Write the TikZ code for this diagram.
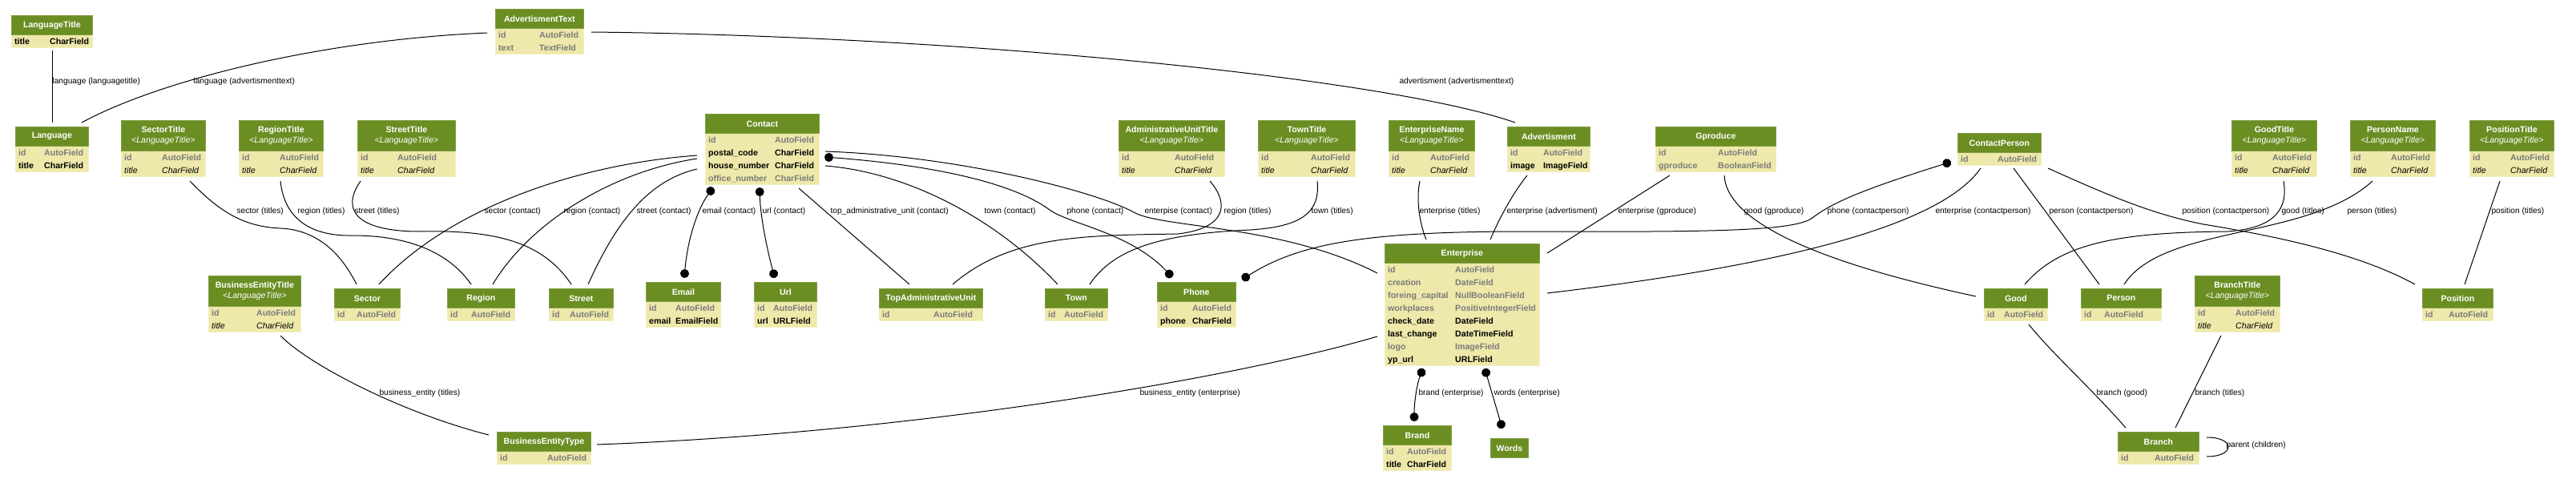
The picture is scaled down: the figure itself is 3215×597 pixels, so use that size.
\documentclass[tikz,border=0pt]{standalone}
\usepackage{fontspec}
\setmainfont{Liberation Sans}
\usepackage{tikz}
\usetikzlibrary{arrows.meta,positioning}

\definecolor{hdr}{HTML}{6B8E23}
\definecolor{body}{HTML}{EEE8AA}
\definecolor{fgray}{HTML}{7B7B7B}
\newcommand\dfont{\fontsize{10.6}{13}\selectfont}
\newcommand\lfont{\fontsize{10.2}{12}\selectfont}

% #1 name, #2 x, #3 y, #4 width, #5 type column, #6 rows, #7 title, #8 parent, #9 fields
\newcommand\model[9]{%
  \ifx\relax#8\relax\def\hh{24}\else\def\hh{38}\fi
  \pgfmathsetmacro\bh{\hh+16*#6}
  \node[tab, minimum width=#4pt, minimum height=\bh pt] (#1) at (#2,#3) {};
  \node[head, minimum width=#4pt, minimum height=\hh pt] (#1-h) at (#2,#3)
    {\ifx\relax#8\relax\textbf{#7}\else\textbf{#7}\\\textit{<#8>}\fi};
  \ifnum#6>0
  \foreach \fn/\ft/\fs [count=\r] in {#9} {
    \node[f\fs] (#1-n\r) at ({#2+4},{#3+\hh+16*\r-4}) {\fn};
    \node[f\fs] (#1-t\r) at ({#2+#5},{#3+\hh+16*\r-4}) {\ft};
  }
  \fi
}

\begin{document}
\begin{tikzpicture}[
  x=1pt, y=-1pt,
  tab/.style={fill=body, draw=body!70!white, line width=0.8pt, inner sep=0pt, outer sep=0pt, anchor=north west},
  head/.style={fill=hdr, draw=hdr!85!white, line width=0.8pt, text=white, font=\dfont, align=center, inner sep=0pt, anchor=north west},
  fg/.style={text=fgray, font=\dfont\bfseries, inner sep=0pt, anchor=base west},
  fb/.style={font=\dfont\bfseries, inner sep=0pt, anchor=base west},
  fi/.style={font=\dfont\itshape, inner sep=0pt, anchor=base west},
  lbl/.style={font=\lfont, inner sep=0pt, anchor=west},
  fk/.style={line width=1pt},
  m2m/.style={fk, {Circle[length=11pt,width=11pt]}-{Circle[length=11pt,width=11pt]}}
]
\useasboundingbox (0,0) rectangle (3215,597);

% models
\model{langtitle}{14}{19}{101}{48}{1}{LanguageTitle}{}{title/CharField/b}
\model{language}{19}{158}{91}{36}{2}{Language}{}{id/AutoField/g, title/CharField/b}
\model{sectortitle}{151}{150}{105}{51}{2}{SectorTitle}{LanguageTitle}{id/AutoField/g, title/CharField/i}
\model{regiontitle}{298}{150}{105}{51}{2}{RegionTitle}{LanguageTitle}{id/AutoField/g, title/CharField/i}
\model{streettitle}{446}{150}{122}{50}{2}{StreetTitle}{LanguageTitle}{id/AutoField/g, title/CharField/i}
\model{advtext}{618}{11}{110}{55}{2}{AdvertismentText}{}{id/AutoField/g, text/TextField/g}
\model{contact}{880}{142}{142}{87}{4}{Contact}{}{id/AutoField/g, postal\_code/CharField/b, house\_number/CharField/b, office\_number/CharField/g}
\model{admtitle}{1396}{150}{132}{70}{2}{AdministrativeUnitTitle}{LanguageTitle}{id/AutoField/g, title/CharField/i}
\model{towntitle}{1570}{150}{121}{66}{2}{TownTitle}{LanguageTitle}{id/AutoField/g, title/CharField/i}
\model{entname}{1733}{150}{107}{52}{2}{EnterpriseName}{LanguageTitle}{id/AutoField/g, title/CharField/i}
\model{advert}{1881}{158}{103}{45}{2}{Advertisment}{}{id/AutoField/g, image/ImageField/b}
\model{gproduce}{2066}{158}{150}{78}{2}{Gproduce}{}{id/AutoField/g, gproduce/BooleanField/g}
\model{cperson}{2443}{166}{104}{50}{1}{ContactPerson}{}{id/AutoField/g}
\model{goodtitle}{2785}{150}{106}{51}{2}{GoodTitle}{LanguageTitle}{id/AutoField/g, title/CharField/i}
\model{personname}{2933}{150}{106}{51}{2}{PersonName}{LanguageTitle}{id/AutoField/g, title/CharField/i}
\model{postitle}{3082}{150}{105}{51}{2}{PositionTitle}{LanguageTitle}{id/AutoField/g, title/CharField/i}
\model{betitle}{260}{344}{115}{60}{2}{BusinessEntityTitle}{LanguageTitle}{id/AutoField/g, title/CharField/i}
\model{sector}{417}{360}{82}{28}{1}{Sector}{}{id/AutoField/g}
\model{region}{558}{360}{84}{30}{1}{Region}{}{id/AutoField/g}
\model{street}{685}{360}{80}{26}{1}{Street}{}{id/AutoField/g}
\model{email}{806}{352}{93}{37}{2}{Email}{}{id/AutoField/g, email/EmailField/b}
\model{url}{941}{352}{78}{24}{2}{Url}{}{id/AutoField/g, url/URLField/b}
\model{betype}{620}{539}{117}{63}{1}{BusinessEntityType}{}{id/AutoField/g}
\model{topadm}{1097}{360}{129}{68}{1}{TopAdministrativeUnit}{}{id/AutoField/g}
\model{town}{1304}{360}{78}{24}{1}{Town}{}{id/AutoField/g}
\model{phone}{1444}{352}{98}{44}{2}{Phone}{}{id/AutoField/g, phone/CharField/b}
\model{enterprise}{1728}{304}{193}{88}{8}{Enterprise}{}{id/AutoField/g, creation/DateField/g, foreing\_capital/NullBooleanField/g, workplaces/PositiveIntegerField/g, check\_date/DateField/b, last\_change/DateTimeField/b, logo/ImageField/g, yp\_url/URLField/b}
\model{brand}{1726}{531}{85}{30}{2}{Brand}{}{id/AutoField/g, title/CharField/b}
\model{words}{1860}{547}{47}{0}{0}{Words}{}{}
\model{good}{2476}{360}{79}{25}{1}{Good}{}{id/AutoField/g}
\model{person}{2597}{360}{100}{29}{1}{Person}{}{id/AutoField/g}
\model{branch}{2643}{539}{101}{46}{1}{Branch}{}{id/AutoField/g}
\model{branchtitle}{2739}{344}{106}{51}{2}{BranchTitle}{LanguageTitle}{id/AutoField/g, title/CharField/i}
\model{position}{3023}{360}{88}{33}{1}{Position}{}{id/AutoField/g}

% relations
\draw[fk] ([shift={(51,4)}]langtitle.south west) -- ([shift={(46,-5)}]language.north west)
  node[lbl, at={(65,102)}] (l-lang1) {language (languagetitle)};
\draw[fk] ([shift={(-10,30)}]advtext.north west) .. controls (400,50) and (200,100) .. ([shift={(83,-5)}]language.north west)
  node[lbl, at={(241,102)}] (l-lang2) {language (advertismenttext)};
\draw[fk] ([shift={(10,29)}]advtext.north east) .. controls (1200,45) and (1730,97) .. ([shift={(10,-5)}]advert.north west)
  node[lbl, at={(1746,102)}] (l-adv) {advertisment (advertismenttext)};

\draw[fk] ([shift={(86,6)}]sectortitle.south west) .. controls (270,260) and (300,283) .. (350,285)
  .. controls (395,287) and (425,315) .. ([shift={(28,-5)}]sector.north west)
  node[lbl, at={(295,264)}] (l-sec1) {sector (titles)};
\draw[fk] ([shift={(52,6)}]regiontitle.south west) .. controls (355,275) and (390,295) .. (440,294)
  .. controls (510,294) and (560,315) .. ([shift={(30,-5)}]region.north west)
  node[lbl, at={(371,264)}] (l-reg1) {region (titles)};
\draw[fk] ([shift={(4,6)}]streettitle.south west) .. controls (425,262) and (445,288) .. (520,289)
  .. controls (610,287) and (675,298) .. ([shift={(28,-5)}]street.north west)
  node[lbl, at={(442,264)}] (l-str1) {street (titles)};

\draw[fk] ([shift={(-10,52)}]contact.north west) .. controls (720,205) and (560,260) .. ([shift={(56,-5)}]sector.north west)
  node[lbl, at={(604,264)}] (l-sec2) {sector (contact)};
\draw[fk] ([shift={(-10,56)}]contact.north west) .. controls (760,215) and (660,280) .. ([shift={(57,-5)}]region.north west)
  node[lbl, at={(703,264)}] (l-reg2) {region (contact)};
\draw[fk] ([shift={(-10,69)}]contact.north west) .. controls (810,225) and (770,275) .. ([shift={(49,-5)}]street.north west)
  node[lbl, at={(794,264)}] (l-str2) {street (contact)};
\draw[m2m] ([shift={(10,4)}]contact.south west) .. controls (870,262) and (858,300) .. ([shift={(48,-5)}]email.north west)
  node[lbl, at={(876,264)}] (l-email) {email (contact)};
\draw[m2m] ([shift={(68,4)}]contact.south west) .. controls (949,270) and (957,310) .. ([shift={(26,-5)}]url.north west)
  node[lbl, at={(951,264)}] (l-url) {url (contact)};
\draw[fk] ([shift={(117,5)}]contact.south west) -- ([shift={(38,-5)}]topadm.north west)
  node[lbl, at={(1036,264)}] (l-top) {top\_administrative\_unit (contact)};
\draw[fk] ([shift={(8,65)}]contact.north east) .. controls (1130,215) and (1240,270) .. ([shift={(16,-5)}]town.north west)
  node[lbl, at={(1228,264)}] (l-town1) {town (contact)};
\draw[m2m] ([shift={(7,54)}]contact.north east) .. controls (1150,205) and (1260,225) .. (1310,262)
  .. controls (1335,280) and (1410,290) .. ([shift={(19,-6)}]phone.north west)
  node[lbl, at={(1331,264)}] (l-phone1) {phone (contact)};
\draw[fk] ([shift={(8,47)}]contact.north east) .. controls (1200,195) and (1370,240) .. (1415,265)
  .. controls (1450,285) and (1600,280) .. ([shift={(-9,37)}]enterprise.north west)
  node[lbl, at={(1428,264)}] (l-ent1) {enterpise (contact)};

\draw[fk] ([shift={(114,6)}]admtitle.south west) .. controls (1535,255) and (1530,285) .. (1470,292)
  .. controls (1350,294) and (1260,294) .. ([shift={(92,-5)}]topadm.north west)
  node[lbl, at={(1527,264)}] (l-reg3) {region (titles)};
\draw[fk] ([shift={(74,6)}]towntitle.south west) .. controls (1648,265) and (1625,283) .. (1560,287)
  .. controls (1450,292) and (1390,310) .. ([shift={(56,-5)}]town.north west)
  node[lbl, at={(1636,264)}] (l-town2) {town (titles)};
\draw[fk] ([shift={(39,6)}]entname.south west) .. controls (1767,250) and (1772,280) .. ([shift={(52,-5)}]enterprise.north west)
  node[lbl, at={(1771,264)}] (l-ent2) {enterprise (titles)};
\draw[fk] ([shift={(25,5)}]advert.south west) .. controls (1885,245) and (1868,280) .. ([shift={(132,-5)}]enterprise.north west)
  node[lbl, at={(1880,264)}] (l-ent3) {enterprise (advertisment)};
\draw[fk] ([shift={(18,5)}]gproduce.south west) -- ([shift={(10,12)}]enterprise.north east)
  node[lbl, at={(2019,264)}] (l-ent4) {enterprise (gproduce)};
\draw[fk] ([shift={(86,5)}]gproduce.south west) .. controls (2155,280) and (2280,330) .. ([shift={(-10,10)}]good.north west)
  node[lbl, at={(2176,264)}] (l-good1) {good (gproduce)};

\draw[m2m] ([shift={(-8,36)}]cperson.north west) .. controls (2340,232) and (2290,250) .. (2262,272)
  .. controls (2240,288) and (2150,290) .. (1900,289)
  .. controls (1700,289) and (1620,305) .. ([shift={(106,-3)}]phone.north west)
  node[lbl, at={(2280,264)}] (l-phone2) {phone (contactperson)};
\draw[fk] ([shift={(29,4)}]cperson.south west) .. controls (2430,270) and (2280,325) .. ([shift={(10,62)}]enterprise.north east)
  node[lbl, at={(2415,264)}] (l-ent5) {enterprise (contactperson)};
\draw[fk] ([shift={(70,4)}]cperson.south west) -- ([shift={(23,-5)}]person.north west)
  node[lbl, at={(2557,264)}] (l-pers1) {person (contactperson)};
\draw[fk] ([shift={(113,4)}]cperson.south west) .. controls (2640,248) and (2690,268) .. (2750,280)
  .. controls (2860,298) and (2950,320) .. ([shift={(-9,-5)}]position.north west)
  node[lbl, at={(2723,264)}] (l-pos1) {position (contactperson)};

\draw[fk] ([shift={(65,6)}]goodtitle.south west) .. controls (2856,260) and (2840,285) .. (2780,289)
  .. controls (2640,290) and (2570,305) .. ([shift={(51,-5)}]good.north west)
  node[lbl, at={(2847,264)}] (l-good2) {good (titles)};
\draw[fk] ([shift={(28,6)}]personname.south west) .. controls (2880,300) and (2700,280) .. ([shift={(54,-5)}]person.north west)
  node[lbl, at={(2929,264)}] (l-pers2) {person (titles)};
\draw[fk] ([shift={(38,6)}]postitle.south west) -- ([shift={(53,-5)}]position.north west)
  node[lbl, at={(3109,264)}] (l-pos2) {position (titles)};

\draw[fk] ([shift={(90,5)}]betitle.south west) .. controls (385,455) and (500,515) .. ([shift={(-10,4)}]betype.north west)
  node[lbl, at={(473,491)}] (l-be1) {business\_entity (titles)};
\draw[fk] ([shift={(-9,116)}]enterprise.north west) .. controls (1550,470) and (1150,540) .. ([shift={(8,16)}]betype.north east)
  node[lbl, at={(1422,491)}] (l-be2) {business\_entity (enterprise)};
\draw[m2m] ([shift={(48,4)}]enterprise.south west) .. controls (1769,478) and (1765,500) .. ([shift={(39,-5)}]brand.north west)
  node[lbl, at={(1770,491)}] (l-brand) {brand (enterprise)};
\draw[m2m] ([shift={(125,4)}]enterprise.south west) -- ([shift={(15,-12)}]words.north west)
  node[lbl, at={(1864,491)}] (l-words) {words (enterprise)};
\draw[fk] ([shift={(56,5)}]good.south west) .. controls (2560,440) and (2610,485) .. ([shift={(10,-5)}]branch.north west)
  node[lbl, at={(2616,491)}] (l-br1) {branch (good)};
\draw[fk] ([shift={(33,5)}]branchtitle.south west) -- ([shift={(72,-5)}]branch.north west)
  node[lbl, at={(2739,491)}] (l-br2) {branch (titles)};
\draw[fk] ([shift={(10,7)}]branch.north east) .. controls (2790,546) and (2790,570) .. ([shift={(10,31)}]branch.north east)
  node[lbl, at={(2778,556)}] (l-parent) {parent (children)};
\end{tikzpicture}
\end{document}
